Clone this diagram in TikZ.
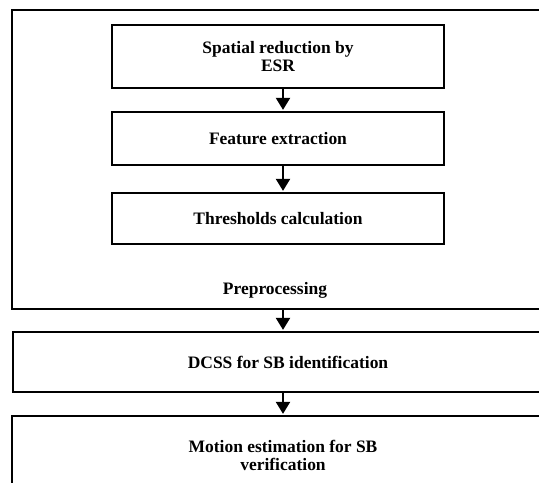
\documentclass[tikz,border=0pt]{standalone}
\usepackage{fontspec}
\setmainfont{Liberation Serif}
\usetikzlibrary{arrows.meta}
\tikzset{
  x=0.75pt, y=-0.75pt,
  every node/.style={font=\bfseries\fontsize{13.1}{13.6}\selectfont},
  stage/.style={draw, line width=2pt, rectangle, inner sep=0pt, align=center},
  flow/.style={line width=1.6pt, -{Triangle[length=9pt,width=10.5pt]}, shorten >=0.6pt}
}
\begin{document}
\begin{tikzpicture}
\useasboundingbox (0,0) rectangle (539,482);
\clip (0,0) rectangle (539,482);

% preprocessing frame and its caption
\node[stage, minimum width=548*0.75pt, minimum height=299*0.75pt] (pre) at (286,159.5) {};
\node (prelabel) at (275,290) {Preprocessing};

% inner steps
\node[stage, minimum width=332*0.75pt, minimum height=63*0.75pt] (esr) at (278,56.5) {Spatial reduction by\\ESR};
\node[stage, minimum width=332*0.75pt, minimum height=53*0.75pt] (feat) at (278,138.5) {Feature extraction};
\node[stage, minimum width=332*0.75pt, minimum height=51*0.75pt] (thr) at (278,218.5) {Thresholds calculation};

% later stages
\node[stage, minimum width=550*0.75pt, minimum height=60*0.75pt] (dcss) at (288,362) {DCSS for SB identification};
\node[stage, minimum width=542*0.75pt, minimum height=78*0.75pt] (motion) at (283,455) {Motion estimation for SB\\verification};

% connectors
\coordinate (ax) at (283,0);
\draw[flow] (ax |- esr.south) -- (ax |- feat.north);
\draw[flow] (ax |- feat.south) -- (ax |- thr.north);
\draw[flow] (ax |- pre.south) -- (ax |- dcss.north);
\draw[flow] (ax |- dcss.south) -- (ax |- motion.north);
\end{tikzpicture}
\end{document}
